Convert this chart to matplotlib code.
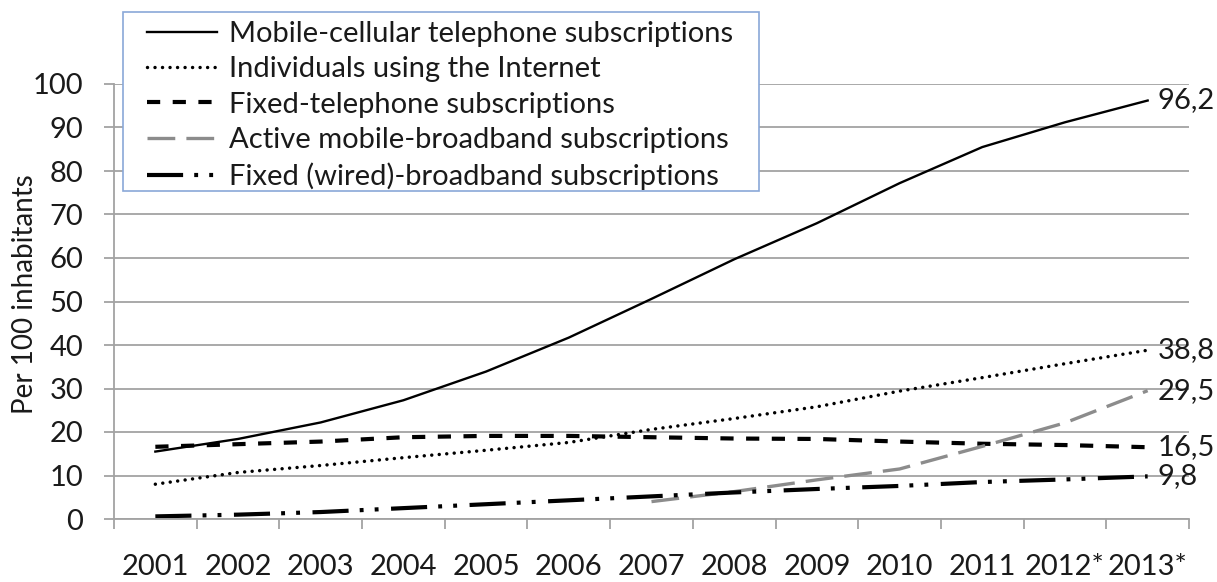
import matplotlib
matplotlib.use("Agg")
import matplotlib.pyplot as plt
from matplotlib.patches import Rectangle
import numpy as np

# per 100 inhabitants, world
years = ["2001", "2002", "2003", "2004", "2005", "2006", "2007",
         "2008", "2009", "2010", "2011", "2012*", "2013*"]
mobile_cellular = [15.5, 18.4, 22.2, 27.3, 33.9, 41.7, 50.6,
                   59.7, 68.0, 77.2, 85.5, 91.2, 96.2]
internet_users = [8.0, 10.7, 12.3, 14.1, 15.8, 17.6, 20.6,
                  23.1, 25.8, 29.4, 32.5, 35.7, 38.8]
fixed_telephone = [16.6, 17.2, 17.8, 18.8, 19.1, 19.1, 18.8,
                   18.5, 18.4, 17.8, 17.3, 17.0, 16.5]
# mobile broadband only reported from 2007 on
mobile_broadband_years = ["2007", "2008", "2009", "2010", "2011", "2012*", "2013*"]
mobile_broadband = [4.0, 6.3, 9.0, 11.5, 16.7, 22.1, 29.5]
fixed_broadband = [0.6, 1.0, 1.6, 2.5, 3.4, 4.3, 5.2,
                   6.1, 6.9, 7.6, 8.5, 9.1, 9.8]

end_labels = ["96,2", "38,8", "16,5", "29,5", "9,8"]

FONT = "Lato"
GRID = "#a3a3a3"
TXT = "#1a1a1a"
FS = 21
W, H = 1217, 582
plt.rcParams["font.family"] = FONT
plt.rcParams["lines.scale_dashes"] = False

fig = plt.figure(figsize=(W / 100, H / 100), dpi=100)
ax = fig.add_axes([114 / W, 1 - 519 / H, (1189 - 114) / W, (519 - 84) / H])

x = np.arange(len(years))
xb = np.array([years.index(y) for y in mobile_broadband_years])

series = [
    (x, mobile_cellular, "Mobile-cellular telephone subscriptions",
     dict(color="black", lw=1.7, ls="-")),
    (x, internet_users, "Individuals using the Internet",
     dict(color="black", lw=2.5, ls=(0, (0.01, 5.4)), dash_capstyle="round")),
    (x, fixed_telephone, "Fixed-telephone subscriptions",
     dict(color="black", lw=3.0, ls=(0, (9.5, 9.0)))),
    (xb, mobile_broadband, "Active mobile-broadband subscriptions",
     dict(color="#8c8c8c", lw=2.4, ls=(0, (20, 8)))),
    (x, fixed_broadband, "Fixed (wired)-broadband subscriptions",
     dict(color="black", lw=3.0, ls=(0, (26, 8, 2.8, 8, 2.8, 9)))),
]

handles = []
for xs, ys, name, style in series:
    h, = ax.plot(xs, ys, label=name, **style)
    handles.append(h)

for (xs, ys, _, _), lab in zip(series, end_labels):
    ax.annotate(lab, (xs[-1], ys[-1]), xytext=(7, 0), textcoords="offset points",
                ha="left", va="center", fontsize=FS, color=TXT,
                annotation_clip=False)

ax.set_xlim(-0.5, len(years) - 0.5)
ax.set_ylim(0, 100)
ax.set_yticks(np.arange(0, 101, 10))
ax.yaxis.grid(True, color=GRID, lw=1.3)
ax.set_axisbelow(True)

# category boundaries carry the tick marks, labels sit at the centres
ax.set_xticks(np.arange(-0.5, len(years), 1.0))
ax.set_xticklabels([])
ax.set_xticks(x, minor=True)
ax.set_xticklabels(years, minor=True)
ax.tick_params(axis="x", which="major", length=7, width=1.3, color=GRID)
ax.tick_params(axis="x", which="minor", length=0, pad=25, labelsize=FS,
               labelcolor=TXT)
ax.tick_params(axis="y", length=7, width=1.3, color=GRID, pad=15,
               labelsize=FS, labelcolor=TXT)

for side in ("top", "right"):
    ax.spines[side].set_visible(False)
for side in ("left", "bottom"):
    ax.spines[side].set_color(GRID)
    ax.spines[side].set_linewidth(1.3)

ax.set_ylabel("Per 100 inhabitants", fontsize=20, color=TXT)
ax.yaxis.set_label_coords(-(114 - 38) / (1189 - 114), (519 - 294) / (519 - 84))

# legend box drawn by hand so the entries can sit with an inset on the left
box = Rectangle((123 / W, 1 - 191 / H), (759 - 123) / W, (191 - 12) / H,
                transform=fig.transFigure, facecolor="white",
                edgecolor="#8aa8d8", lw=1.2, zorder=4)
fig.add_artist(box)
leg = fig.legend(handles=handles, loc="upper left",
                 bbox_to_anchor=(147 / W, 1 - 21 / H),
                 borderaxespad=0, borderpad=0, fontsize=FS, frameon=False,
                 handlelength=2.4, handletextpad=0.4, labelspacing=0.32)
leg.set_zorder(5)
for t in leg.get_texts():
    t.set_color(TXT)

# caption line of the page, mostly above the cropped area
fig.text(38 / W, 1 + 11 / H, "Figure 1: Global ICT developments, 2001-2013",
         family="Liberation Serif", fontsize=24.8, va="baseline", ha="left")

fig.savefig("out.png", dpi=100)
